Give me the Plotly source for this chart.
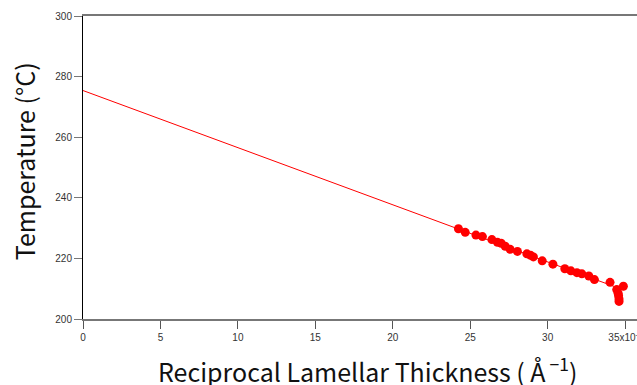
import plotly.graph_objects as go

# Data (x in units of 1e-3 Å^-1, temperature in °C)
recip_thickness = [24.24, 24.68, 25.37, 25.79, 26.40, 26.76, 27.00, 27.26, 27.58, 28.05,
                   28.66, 28.90, 29.08, 29.65, 30.34, 31.11, 31.50, 31.89, 32.21, 32.66,
                   33.02, 34.03, 34.46, 34.55, 34.58, 34.61, 34.61, 34.89]
temperature = [229.8, 228.6, 227.7, 227.2, 226.2, 225.3, 225.0, 224.0, 223.0, 222.3,
               221.5, 221.0, 220.5, 219.2, 218.1, 216.6, 215.9, 215.3, 214.9, 214.2,
               213.0, 212.1, 209.7, 208.5, 207.7, 206.6, 205.8, 210.8]

fit_x = [0.0, 34.9]
fit_y = [275.4, 209.6]

x_tickvals = [0, 5, 10, 15, 20, 25, 30, 35]
x_ticktext = ["0", "5", "10", "15", "20", "25", "30", "35x10<sup>-3</sup>"]
y_tickvals = [200, 220, 240, 260, 280, 300]

x_title = "Reciprocal Lamellar Thickness ( Å<sup> −1</sup>)"
y_title = "Temperature (°C)"

title_font = dict(size=25, color="#111111", family="Noto Sans CJK JP, Noto Sans, sans-serif")

fig = go.Figure()
fig.add_trace(go.Scatter(x=fit_x, y=fit_y, mode="lines",
                         line=dict(color="#ff0000", width=1), showlegend=False))
fig.add_trace(go.Scatter(x=recip_thickness, y=temperature, mode="markers",
                         marker=dict(color="#ff0000", size=9), showlegend=False))

fig.update_layout(
    width=637, height=385,
    margin=dict(l=83, r=0, t=16, b=66, autoexpand=False),
    paper_bgcolor="white", plot_bgcolor="white",
    font=dict(family="Liberation Sans, Arial, sans-serif", color="#333333"),
    xaxis=dict(range=[0, 35.77], tickvals=x_tickvals, ticktext=x_ticktext,
               automargin=False, ticklabeloverflow="allow",
               showgrid=False, zeroline=False, showline=True, linecolor="#777777",
               linewidth=2, mirror=True, ticks="outside", ticklen=8, tickcolor="#555555",
               tickfont=dict(size=10, color="#333333")),
    yaxis=dict(range=[200, 300], tickvals=y_tickvals, automargin=False,
               showgrid=False, zeroline=False, showline=True, linecolor="#000000",
               linewidth=1, ticks="outside", ticklen=8, tickcolor="#777777",
               tickfont=dict(size=10, color="#333333")),
    annotations=[
        dict(text=x_title, xref="paper", yref="paper", x=0.514, y=-0.168,
             xanchor="center", yanchor="middle", showarrow=False, font=title_font),
        dict(text=y_title, xref="paper", yref="paper", x=-0.1065, y=0.521,
             xanchor="center", yanchor="middle", textangle=-90, showarrow=False,
             font=title_font),
    ],
)

fig.write_html("out.html", config={"displayModeBar": False},
               post_script="document.body.style.margin='0';document.body.style.overflow='hidden';")
